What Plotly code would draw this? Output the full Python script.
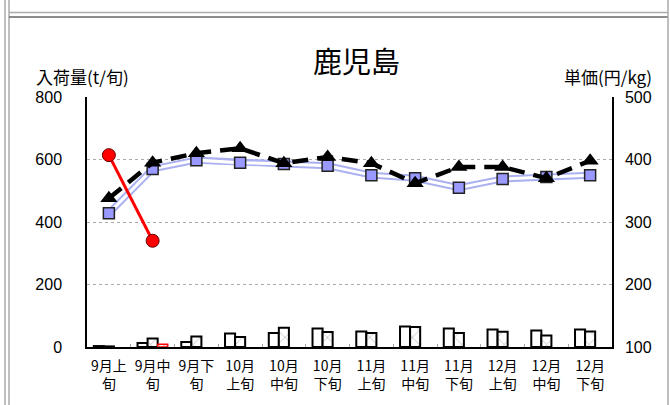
import plotly.graph_objects as go

categories = ["9月上<br>旬", "9月中<br>旬", "9月下<br>旬", "10月<br>上旬", "10月<br>中旬", "10月<br>下旬",
              "11月<br>上旬", "11月<br>中旬", "11月<br>下旬", "12月<br>上旬", "12月<br>中旬", "12月<br>下旬"]

# 入荷量 (t/旬)
vol_prev = [3, 13, 16, 43, 45, 59, 50, 66, 59, 56, 53, 56]
vol_avg = [2, 27, 34, 32, 62, 48, 45, 64, 45, 49, 37, 50]
vol_cur = [None, 9, None, None, None, None, None, None, None, None, None, None]

# 単価 (円/kg)
price_avg = [314, 385, 399, 395, 393, 390, 375, 370, 355, 369, 372, 375]
price_prev = [338, 395, 410, 418, 394, 404, 394, 362, 388, 388, 370, 398]
price_cur = [407, 270, None, None, None, None, None, None, None, None, None, None]

JP = "Noto Sans CJK JP"
NUM = "Liberation Sans"

fig = go.Figure()

fig.add_bar(x=categories, y=vol_prev, marker=dict(color="white", line=dict(color="black", width=2)))
fig.add_bar(x=categories, y=vol_avg, marker=dict(color="white", line=dict(color="black", width=2),
                                                  pattern=dict(shape="x", fgcolor="#777", bgcolor="white",
                                                               size=10, solidity=0.14)))
fig.add_bar(x=categories, y=vol_cur, marker=dict(color="white", line=dict(color="red", width=1.5),
                                                  pattern=dict(shape="x", fgcolor="red", bgcolor="white",
                                                               size=5, solidity=0.3)))

# blue double line (average price)
fig.add_scatter(x=categories, y=price_avg, yaxis="y2", mode="lines",
                line=dict(color="#aab0f0", width=7), hoverinfo="skip")
fig.add_scatter(x=categories, y=price_avg, yaxis="y2", mode="lines",
                line=dict(color="white", width=3), hoverinfo="skip")
fig.add_scatter(x=categories, y=price_avg, yaxis="y2", mode="markers",
                marker=dict(symbol="square", size=11, color="#9999ff", line=dict(color="#222", width=1.5)))

# black dashed triangles
fig.add_scatter(x=categories, y=price_prev, yaxis="y2", mode="lines+markers",
                line=dict(color="black", width=4.5, dash="16px,9px"),
                marker=dict(symbol="triangle-up", size=15, color="black"))

# red current price
fig.add_scatter(x=categories, y=price_cur, yaxis="y2", mode="lines+markers",
                line=dict(color="red", width=3),
                marker=dict(symbol="circle", size=13, color="red", line=dict(color="#600", width=1)))

def xp(x):
    return (x - 87) / 525

def yp(y):
    return (347 - y) / 250

shapes = [
    dict(type="line", xref="paper", yref="paper", x0=xp(5), x1=xp(5), y0=yp(0), y1=yp(405),
         line=dict(color="#aaa", width=1.5)),
    dict(type="line", xref="paper", yref="paper", x0=xp(9), x1=xp(9), y0=yp(0), y1=yp(405),
         line=dict(color="#aaa", width=1.5)),
    dict(type="line", xref="paper", yref="paper", x0=xp(9), x1=xp(668), y0=yp(12.5), y1=yp(12.5),
         line=dict(color="#aaa", width=1.5)),
    dict(type="line", xref="paper", yref="paper", x0=xp(9), x1=xp(668), y0=yp(17), y1=yp(17),
         line=dict(color="#666", width=1.5)),
    dict(type="line", xref="paper", yref="paper", x0=xp(668), x1=xp(668), y0=yp(0), y1=yp(405),
         line=dict(color="#aaa", width=1.5)),
]

annotations = [
    dict(text="鹿児島", xref="paper", yref="paper", x=xp(356), y=yp(60), showarrow=False,
         font=dict(family=JP, size=29, color="black"), xanchor="center", yanchor="middle"),
    dict(text="入荷量(t/旬)", xref="paper", yref="paper", x=xp(34), y=yp(77), showarrow=False,
         font=dict(family=JP, size=17, color="black"), xanchor="left", yanchor="middle"),
    dict(text="単価(円/kg)", xref="paper", yref="paper", x=xp(654), y=yp(77), showarrow=False,
         font=dict(family=JP, size=17, color="black"), xanchor="right", yanchor="middle"),
]

fig.update_layout(
    width=670, height=405,
    margin=dict(l=87, r=58, t=97, b=58, autoexpand=False),
    paper_bgcolor="white", plot_bgcolor="white",
    showlegend=False,
    barmode="group", bargap=0.31, bargroupgap=0,
    shapes=shapes, annotations=annotations,
    xaxis=dict(type="category", range=[-0.5, len(categories) - 0.5], showline=True,
               linecolor="black", linewidth=1.5,
               tickfont=dict(family=JP, size=14, color="black"), tickangle=0,
               ticks="inside", ticklen=3, tickcolor="#aaa", tickson="boundaries",
               ticklabelstandoff=5, showgrid=False, automargin=False),
    yaxis=dict(range=[0, 800], dtick=200, showline=True, linecolor="black", linewidth=1.5,
               gridcolor="#aaa", griddash="dot", gridwidth=1, zeroline=False, automargin=False,
               tickfont=dict(family=NUM, size=16, color="black"), ticklabelstandoff=20),
    yaxis2=dict(range=[100, 500], dtick=100, overlaying="y", side="right", showline=True,
                linecolor="black", linewidth=1.5, showgrid=False, zeroline=False, automargin=False,
                tickfont=dict(family=NUM, size=16, color="black"), ticklabelstandoff=8),
)

fig.write_html("out.html", config={"displayModeBar": False},
               post_script="document.body.style.margin='0';document.body.style.overflow='hidden';")
